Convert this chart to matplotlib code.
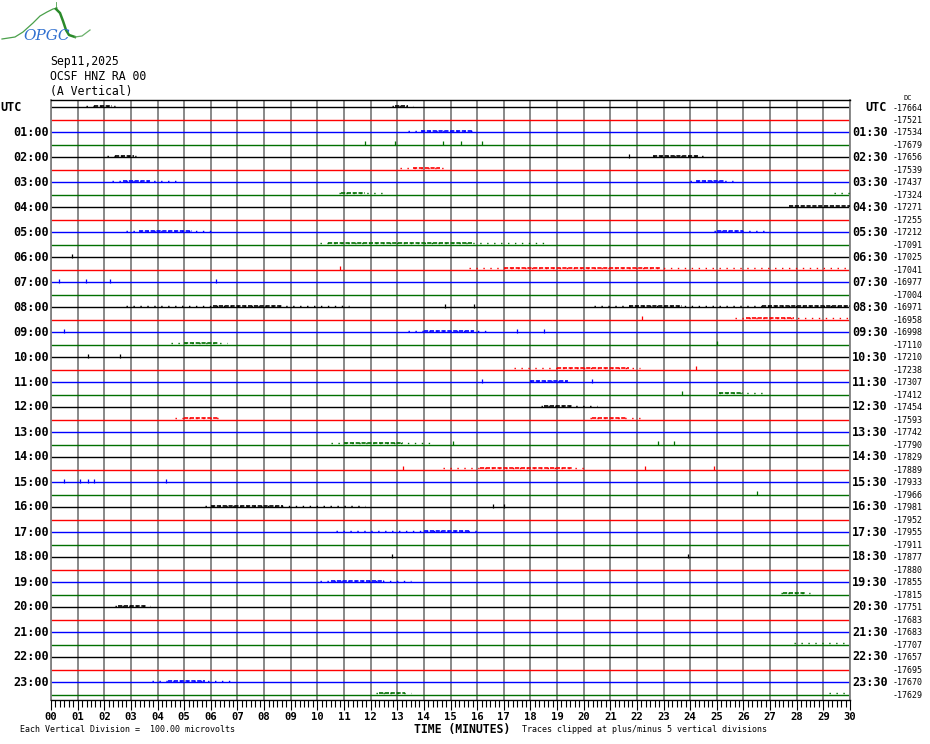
import matplotlib
matplotlib.use("Agg")
import matplotlib.pyplot as plt
from matplotlib import transforms

# --- chart values ---
DATE = "Sep11,2025"
STATION = "OCSF HNZ RA 00"
COMPONENT = "(A Vertical)"
SCALE_NOTE = "Each Vertical Division =  100.00 microvolts"
CLIP_NOTE = "Traces clipped at plus/minus 5 vertical divisions"

TRACE_COLORS = ["black", "#ff0000", "#0000ff", "#007000"]
MINUTES = list(range(0, 31))
MINUTE_LABELS = ["%02d" % m for m in MINUTES]

LEFT_LABELS = ["UTC", "01:00", "02:00", "03:00", "04:00", "05:00", "06:00",
               "07:00", "08:00", "09:00", "10:00", "11:00", "12:00", "13:00",
               "14:00", "15:00", "16:00", "17:00", "18:00", "19:00", "20:00",
               "21:00", "22:00", "23:00"]
RIGHT_LABELS = ["UTC", "01:30", "02:30", "03:30", "04:30", "05:30", "06:30",
                "07:30", "08:30", "09:30", "10:30", "11:30", "12:30", "13:30",
                "14:30", "15:30", "16:30", "17:30", "18:30", "19:30", "20:30",
                "21:30", "22:30", "23:30"]

DC_OFFSETS = [-17664, -17521, -17534, -17679, -17656, -17539, -17437, -17324,
              -17271, -17255, -17212, -17091, -17025, -17041, -16977, -17004,
              -16971, -16958, -16998, -17110, -17210, -17238, -17307, -17412,
              -17454, -17593, -17742, -17790, -17829, -17889, -17933, -17966,
              -17981, -17952, -17955, -17911, -17877, -17880, -17855, -17815,
              -17751, -17683, -17683, -17707, -17657, -17695, -17670, -17629]

# (trace, start minute, end minute) of weak activity
SPARSE = [(0, 1.3, 2.4), (0, 12.8, 13.6), (2, 13.4, 15.8), (4, 2.1, 3.2),
          (4, 22.6, 24.6), (5, 13.1, 14.8), (6, 2.3, 4.8), (6, 24.0, 25.6),
          (7, 10.8, 12.5), (7, 29.4, 30.0), (10, 2.8, 6.2), (10, 24.9, 26.8),
          (11, 10.1, 18.5), (13, 15.7, 30.0), (16, 2.8, 11.2), (16, 20.4, 30.0),
          (17, 25.7, 30.0), (18, 13.4, 16.5), (19, 4.5, 6.6), (21, 17.4, 22.1),
          (22, 18.0, 19.4), (23, 25.1, 26.9), (24, 18.4, 20.5), (25, 4.65, 6.3),
          (25, 20.25, 22.2), (27, 10.5, 14.3), (29, 14.7, 20.1), (32, 5.8, 11.8),
          (34, 10.7, 16.0), (38, 10.1, 13.5), (39, 27.4, 28.5), (40, 2.4, 3.7),
          (43, 27.9, 30.0), (46, 3.8, 6.9), (47, 12.2, 13.5), (47, 29.2, 30.0)]

# (trace, start minute, end minute) of denser activity
DENSE = [(0, 1.6, 2.3), (0, 12.9, 13.4), (2, 13.9, 15.8), (4, 2.4, 3.1),
         (4, 22.6, 24.3), (5, 13.6, 14.6), (6, 2.7, 3.7), (6, 24.2, 25.3),
         (7, 10.9, 11.8), (8, 27.7, 30.0), (10, 3.3, 5.3), (10, 25.0, 26.0),
         (11, 10.4, 15.8), (13, 17.0, 22.9), (16, 6.1, 8.7), (16, 21.7, 23.7),
         (16, 26.7, 30.0), (17, 26.1, 27.9), (18, 14.0, 15.9), (19, 5.0, 6.3),
         (21, 19.0, 21.7), (22, 18.0, 19.4), (23, 25.1, 26.0), (24, 18.5, 19.6),
         (25, 5.0, 6.3), (25, 20.3, 21.6), (27, 11.0, 13.2), (29, 16.1, 19.6),
         (32, 6.0, 8.7), (34, 14.0, 15.7), (38, 10.5, 12.5), (39, 27.5, 28.3),
         (40, 2.5, 3.6), (46, 4.4, 5.8), (47, 12.3, 13.3)]

# (trace, minute) of isolated spikes
DOTS = [(3, 11.8), (3, 12.9), (3, 14.7), (3, 15.4), (3, 16.2), (4, 21.7),
        (12, 0.8), (13, 10.85), (14, 0.3), (14, 1.3), (14, 2.2), (14, 6.2),
        (16, 14.8), (16, 15.9), (17, 22.2), (18, 0.5), (18, 17.5), (18, 18.5),
        (19, 25.0), (20, 1.4), (20, 2.6), (21, 24.2), (22, 16.2), (22, 20.3),
        (23, 23.7), (27, 15.1), (27, 22.8), (27, 23.4), (29, 13.2), (29, 22.3),
        (29, 24.9), (30, 0.5), (30, 1.1), (30, 1.4), (30, 1.6), (30, 4.3),
        (31, 26.5), (32, 16.6), (32, 17.0), (36, 12.8), (36, 23.9)]

W, H = 930, 744
MONO = "DejaVu Sans Mono"


def fx(x):
    return x / W


def fy(y):
    return 1 - y / H


fig = plt.figure(figsize=(W / 100, H / 100), dpi=100)

# plot box in pixels: x 51..850, y 100..700
ax = fig.add_axes([fx(51), fy(700), (850 - 51) / W, 600 / H])
n = len(DC_OFFSETS)
ax.set_xlim(0, 30)
ax.set_ylim((700 - 107) / 12.5, (100 - 107) / 12.5)

for m in MINUTES:
    ax.axvline(m, color="#808080", lw=1.3, zorder=1)

for i in range(n):
    ax.plot([0, 30], [i, i], color=TRACE_COLORS[i % 4], lw=1.0, zorder=2)

for tr, t0, t1 in SPARSE:
    ax.plot([t0, t1], [tr - 0.1, tr - 0.1], color=TRACE_COLORS[tr % 4],
            lw=1.0, ls=(0, (1, 4)), zorder=3)
for tr, t0, t1 in DENSE:
    ax.plot([t0, t1], [tr - 0.1, tr - 0.1], color=TRACE_COLORS[tr % 4],
            lw=1.2, ls=(0, (2.5, 1)), zorder=3)
for tr, t in DOTS:
    ax.plot([t], [tr - 0.1], marker="|", ms=2.2, mew=0.9,
            color=TRACE_COLORS[tr % 4], zorder=3)

for side in ["left", "right"]:
    ax.spines[side].set_color("#808080")
    ax.spines[side].set_linewidth(1.3)
ax.spines["top"].set_linewidth(1.0)
ax.spines["bottom"].set_linewidth(1.0)

ax.set_yticks([])
ax.set_xticks(MINUTES)
ax.set_xticklabels(MINUTE_LABELS, fontfamily=MONO, fontweight="bold",
                   fontsize=7.6)
ax.set_xticks([m / 6 for m in range(0, 181)], minor=True)
ax.tick_params(axis="x", which="major", length=7.5, width=0.8, pad=1.5,
               direction="out")
ax.tick_params(axis="x", which="minor", length=5, width=0.8, direction="out")

# hour labels and DC offsets
trans = transforms.blended_transform_factory(fig.transFigure, ax.transData)
for k, lab in enumerate(LEFT_LABELS):
    ax.text(fx(49) if k else fx(0), 2 * k, lab, transform=trans,
            ha="right" if k else "left", va="center", fontfamily=MONO,
            fontweight="bold", fontsize=8.5)
for k, lab in enumerate(RIGHT_LABELS):
    ax.text(fx(865) if k == 0 else fx(852), 2 * k, lab, transform=trans,
            ha="left", va="center", fontfamily=MONO, fontweight="bold",
            fontsize=8.5)
for i, dc in enumerate(DC_OFFSETS):
    ax.text(fx(893), i + 0.12 if i == 0 else i + 0.05, str(dc),
            transform=trans, ha="left", va="center", fontfamily=MONO,
            fontsize=6)
fig.text(fx(903), fy(97.5), "DC", ha="left", va="center", fontfamily=MONO,
         fontsize=5)

# header
fig.text(fx(50), fy(62), DATE, ha="left", va="center", fontfamily=MONO,
         fontsize=8.3)
fig.text(fx(50), fy(76), STATION, ha="left", va="center", fontfamily=MONO,
         fontsize=8.3)
fig.text(fx(50), fy(91), COMPONENT, ha="left", va="center", fontfamily=MONO,
         fontsize=8.3)

# footer
fig.text(fx(20), fy(730), SCALE_NOTE, ha="left", va="center",
         fontfamily=MONO, fontsize=6)
fig.text(fx(414), fy(729), "TIME (MINUTES)", ha="left", va="center",
         fontfamily=MONO, fontweight="bold", fontsize=8.3)
fig.text(fx(522), fy(730), CLIP_NOTE, ha="left", va="center",
         fontfamily=MONO, fontsize=6)

# logo
lg = fig.add_axes([0, fy(45), 100 / W, 45 / H])
lg.set_xlim(0, 100)
lg.set_ylim(45, 0)
lg.axis("off")
lg.plot([2, 15, 23, 33, 40, 47, 53, 57], [39, 37, 32, 23, 16, 12, 9, 8],
        color="#4aa04a", lw=0.9)
lg.plot([56, 56], [2, 9], color="#4aa04a", lw=0.6)
lg.plot([56, 60, 63, 66, 69, 75], [9, 13, 21, 30, 35, 37],
        color="#2a8a2a", lw=1.8)
lg.plot([75, 82, 90], [37, 36, 30], color="#6ab06a", lw=0.9)
lg.text(47, 36, "OPGC", ha="center", va="center", color="#3070d0",
        fontstyle="italic", fontfamily="DejaVu Serif", fontsize=11)

fig.savefig("out.png", dpi=100)
